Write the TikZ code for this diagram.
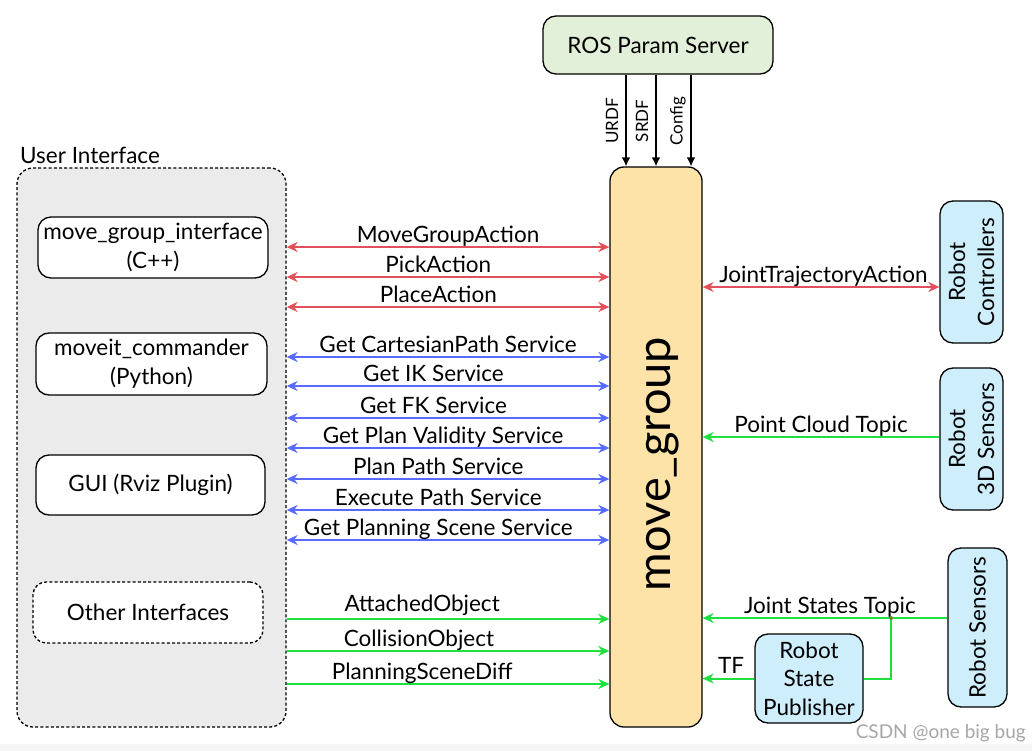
\documentclass[tikz,border=0pt]{standalone}
\usepackage{fontspec}
\setmainfont{Lato}
\usetikzlibrary{arrows.meta}
\definecolor{cred}{RGB}{228,80,90}
\definecolor{cblue}{RGB}{88,106,255}
\definecolor{cgreen}{RGB}{30,224,64}
\definecolor{psfill}{RGB}{226,239,217}
\definecolor{mgfill}{RGB}{253,227,168}
\definecolor{rbfill}{RGB}{206,238,252}
\definecolor{uifill}{RGB}{235,235,235}
\definecolor{strip}{RGB}{245,245,245}
\definecolor{jdot}{RGB}{110,130,40}
\begin{document}
\begin{tikzpicture}[x=1pt,y=-1pt,
  font=\fontsize{22.5}{29}\selectfont,
  box/.style={draw=black, line width=1.3pt, rounded corners=13pt, align=center, inner sep=0pt},
  redarrow/.style={draw=cred, line width=2pt, {Stealth[length=11pt,width=10pt]}-{Stealth[length=11pt,width=10pt]}},
  bluearrow/.style={draw=cblue, line width=2pt, {Stealth[length=11pt,width=10pt]}-{Stealth[length=11pt,width=10pt]}},
  greenarrow/.style={draw=cgreen, line width=2pt, -{Stealth[length=11pt,width=10pt]}},
  greenline/.style={draw=cgreen, line width=2pt},
  blackarrow/.style={draw=black, line width=2pt, -{Latex[length=9pt,width=9pt]}},
  lbl/.style={anchor=base, inner sep=0pt, yshift=5pt},
  vlbl/.style={rotate=90, inner sep=0pt, font=\fontsize{17}{20}\selectfont}
]
\useasboundingbox (0,0) rectangle (1032,751);
\fill[white] (0,0) rectangle (1032,751);
\fill[strip] (0,744) rectangle (1032,751);

% main boxes
\node[box, fill=psfill, minimum width=230pt, minimum height=58pt] (ps) at (658,45) {ROS Param Server};
\node[box, fill=mgfill, minimum width=92pt, minimum height=560pt, rounded corners=14pt] (mg) at (656,447) {};
\node[rotate=90, font=\fontsize{47}{52}\selectfont] (mgt) at (663,464) {move\_group};

% user interface
\node[box, fill=uifill, dash pattern=on 3pt off 2.2pt, rounded corners=16pt, minimum width=269pt, minimum height=559pt] (ui) at (151.5,447.5) {};
\node[anchor=west, inner sep=0pt] (uil) at (20,155) {User Interface};
\node[box, fill=white, minimum width=230pt, minimum height=61pt] (mgi) at (153,247.5) {move\_group\_interface\\(C++)};
\node[box, fill=white, minimum width=231pt, minimum height=62pt] (mc) at (151.5,364) {moveit\_commander\\(Python)};
\node[box, fill=white, minimum width=229pt, minimum height=60pt] (gui) at (150.5,485) {GUI (Rviz Plugin)};
\node[box, fill=white, dash pattern=on 3pt off 2.2pt, minimum width=230pt, minimum height=61pt] (oi) at (148,612.5) {Other Interfaces};

% robot side
\node[box, fill=rbfill, rotate=90, minimum width=142pt, minimum height=63pt] (rc) at (971.5,272) {Robot\\Controllers};
\node[box, fill=rbfill, rotate=90, minimum width=142pt, minimum height=63pt] (r3d) at (971.5,439) {Robot\\3D Sensors};
\node[box, fill=rbfill, rotate=90, minimum width=159pt, minimum height=59pt] (rs) at (977.5,627.5) {Robot Sensors};
\node[box, fill=rbfill, minimum width=108pt, minimum height=89pt, font=\fontsize{22.5}{28.5}\selectfont] (rsp) at (809,678.5) {Robot\\State\\Publisher};

% param server arrows
\draw[blackarrow] (ps.south -| 626,0) -- (mg.north -| 626,0);
\draw[blackarrow] (ps.south -| 656,0) -- (mg.north -| 656,0);
\draw[blackarrow] (ps.south -| 691,0) -- (mg.north -| 691,0);
\node[vlbl] (urdf) at (612,121) {URDF};
\node[vlbl] (srdf) at (642,121) {SRDF};
\node[vlbl] (cfg) at (678,121) {Config};

% action arrows
\draw[redarrow] (ui.east |- 0,247) -- node[lbl, pos=0.5] {MoveGroupAction} (mg.west |- 0,247);
\draw[redarrow] (ui.east |- 0,277) -- node[lbl, pos=0.47] {PickAction} (mg.west |- 0,277);
\draw[redarrow] (ui.east |- 0,307) -- node[lbl, pos=0.47] {PlaceAction} (mg.west |- 0,307);

% services
\draw[bluearrow] (ui.east |- 0,357) -- node[lbl, pos=0.5] {Get CartesianPath Service} (mg.west |- 0,357);
\draw[bluearrow] (ui.east |- 0,386) -- node[lbl, pos=0.455] {Get IK Service} (mg.west |- 0,386);
\draw[bluearrow] (ui.east |- 0,418) -- node[lbl, pos=0.455] {Get FK Service} (mg.west |- 0,418);
\draw[bluearrow] (ui.east |- 0,448) -- node[lbl, pos=0.485] {Get Plan Validity Service} (mg.west |- 0,448);
\draw[bluearrow] (ui.east |- 0,479) -- node[lbl, pos=0.47] {Plan Path Service} (mg.west |- 0,479);
\draw[bluearrow] (ui.east |- 0,510) -- node[lbl, pos=0.47] {Execute Path Service} (mg.west |- 0,510);
\draw[bluearrow] (ui.east |- 0,540) -- node[lbl, pos=0.47] {Get Planning Scene Service} (mg.west |- 0,540);

% topics
\draw[greenarrow] (ui.east |- 0,619) -- node[lbl, pos=0.42, yshift=3pt] {AttachedObject} (mg.west |- 0,619);
\draw[greenarrow] (ui.east |- 0,651) -- node[lbl, pos=0.41] {CollisionObject} (mg.west |- 0,651);
\draw[greenarrow] (ui.east |- 0,684) -- node[lbl, pos=0.42] {PlanningSceneDiff} (mg.west |- 0,684);

% right side
\draw[redarrow] (mg.east |- 0,287) -- node[lbl, pos=0.51] {JointTrajectoryAction} (rc.north |- 0,287);
\draw[greenarrow] (r3d.north |- 0,437) -- node[lbl, pos=0.5] {Point Cloud Topic} (mg.east |- 0,437);
\coordinate (j) at (891,618);
\draw[greenarrow] (rs.north |- j) -- node[lbl, pos=0.48] {Joint States Topic} (mg.east |- j);
\draw[greenline] (j) |- (rsp.east);
\fill[jdot] (j) circle (2pt);
\draw[greenarrow] (rsp.west) -- node[lbl, pos=0.45] {TF} (mg.east |- rsp.west);

% watermark
\node[anchor=east, inner sep=0pt, text=black!35, font=\fontsize{19}{22}\selectfont] (wm) at (1026,733) {CSDN @one big bug};
\end{tikzpicture}
\end{document}
